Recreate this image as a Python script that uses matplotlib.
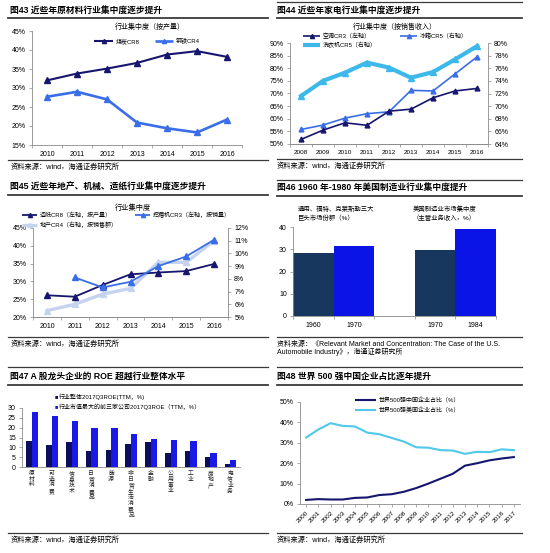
import numpy as np
import matplotlib.pyplot as plt
from matplotlib.lines import Line2D

plt.rcParams['font.family'] = ['Liberation Sans', 'Noto Sans CJK SC']
plt.rcParams['axes.unicode_minus'] = False

# ── Data ───────────────────────────────────────────────────────────────────────
years_43 = ['2010', '2011', '2012', '2013', '2014', '2015', '2016']
coal_cr8 = [32.0, 33.8, 35.1, 36.6, 38.8, 39.7, 38.2]
steel_cr4 = [27.7, 29.0, 27.0, 20.9, 19.4, 18.3, 21.7]

years_44 = ['2008', '2009', '2010', '2011', '2012', '2013', '2014', '2015', '2016']
ac_cr3 = [51.8, 55.5, 58.4, 57.4, 63.0, 63.8, 68.3, 71.0, 72.0]
fridge_cr5 = [66.3, 67.0, 68.1, 68.8, 69.1, 72.5, 72.4, 75.1, 77.8]
washer_cr5 = [71.6, 74.0, 75.3, 76.9, 76.1, 74.5, 75.4, 77.4, 79.5]

years_45 = ['2010', '2011', '2012', '2013', '2014', '2015', '2016']
paper_cr8 = [26.1, 25.7, 29.0, 32.0, 32.5, 32.9, 34.9]
digger_cr3 = [np.nan, 31.1, 28.3, 29.9, 34.3, 37.0, 41.7]
estate_cr4 = [5.5, 6.0, 6.8, 7.25, 9.3, 9.3, 11.0]

labels_46 = ['1960', '1970', '1970', '1984']
values_46 = [28.5, 31.5, 29.5, 39.0]

sectors_47 = ['原材料', '可选消费', '信息技术', '日常消费品', '能源', '非日常生活消费品',
              '金融', '公用事业', '工业', '房地产', '电信业务']
roe_all = [13.0, 11.0, 12.5, 8.0, 8.5, 11.5, 12.5, 7.0, 8.2, 5.3, 1.5]
roe_top3 = [28.0, 26.0, 23.3, 20.0, 19.7, 17.0, 14.2, 13.5, 13.0, 7.0, 3.7]

years_48 = [str(y) for y in range(2000, 2018)]
china_500 = [2.0, 2.4, 2.2, 2.2, 3.0, 3.2, 4.4, 4.8, 6.0, 7.8, 10.0, 12.4, 14.8, 18.8, 20.0, 21.4, 22.3, 23.0]
us_500 = [32.6, 36.5, 39.6, 38.3, 38.0, 35.0, 34.2, 32.4, 30.6, 27.8, 27.6, 26.4, 26.2, 24.6, 25.6, 25.4, 26.8, 26.4]

# ── Style ──────────────────────────────────────────────────────────────────────
NAVY = '#16166e'
BLUE = '#3a6ee8'
CYAN = '#3db8ea'
PALE = '#c6d3ee'
TITLE_FS = 6.3
TICK_FS = 5.0
SRC_FS = 5.2
LEG_FS = 4.3
SOURCE = '资料来源：wind，海通证券研究所'

W, H = 550, 553
fig = plt.figure(figsize=(W / 100, H / 100), dpi=100)


def fx(x):
    return x / W


def fy(y):
    return 1 - y / H


def rule(x0, x1, y, lw=0.9, color='#3a3a3a'):
    fig.add_artist(Line2D([fx(x0), fx(x1)], [fy(y), fy(y)], lw=lw, color=color))


def label(x, y, s, size=TICK_FS, **kw):
    fig.text(fx(x), fy(y), s, fontsize=size, va='center', **kw)


def box(l, t, r, b):
    return fig.add_axes([fx(l), fy(b), (r - l) / W, (b - t) / H])


def key(x0, x1, y, s, color, lw, marker=None, ms=0):
    fig.add_artist(Line2D([fx(x0), fx(x1)], [fy(y)] * 2, color=color, lw=lw,
                          solid_capstyle='butt'))
    if marker:
        fig.add_artist(Line2D([fx((x0 + x1) / 2)], [fy(y)], color=color,
                              marker=marker, ms=ms, lw=0))
    label(x1 + 3, y, s, size=LEG_FS)


def style(ax):
    for side in ['top', 'right']:
        ax.spines[side].set_visible(False)
    for side in ['left', 'bottom', 'right']:
        ax.spines[side].set_color('#8a8a8a')
        ax.spines[side].set_linewidth(0.6)
    ax.tick_params(labelsize=TICK_FS, length=2.5, width=0.5, color='#8a8a8a', pad=2)
    ax.set_facecolor('none')


def category_x(ax, names, size=TICK_FS):
    n = len(names)
    ax.set_xlim(-0.5, n - 0.5)
    ax.set_xticks(range(n), names)
    ax.set_xticks(np.arange(-0.5, n), minor=True)
    ax.tick_params(axis='x', which='major', length=0, pad=4, labelsize=size)
    ax.tick_params(axis='x', which='minor', length=2.5, width=0.5, color='#8a8a8a')


def pct_y(ax, lo, hi, step):
    ticks = np.arange(lo, hi + step / 2, step)
    ax.set_ylim(lo, hi)
    ax.set_yticks(ticks, [f'{t:g}%' for t in ticks])


# ── Frame: titles, rules, sources ──────────────────────────────────────────────
rule(277, 522, 2)
rule(8, 268, 18, lw=1.3)
rule(277, 522, 18, lw=1.3)
label(10, 11, '图43 近些年原材料行业集中度逐步提升', size=TITLE_FS, weight='bold')
label(277, 11, '图44 近些年家电行业集中度逐步提升', size=TITLE_FS, weight='bold')
rule(8, 268, 160)
rule(277, 522, 159)
label(11, 167, SOURCE, size=SRC_FS)
label(277, 166, SOURCE, size=SRC_FS)

rule(277, 522, 180)
rule(8, 268, 195, lw=1.3)
rule(277, 522, 196, lw=1.3)
label(10, 187, '图45 近些年地产、机械、造纸行业集中度逐步提升', size=TITLE_FS, weight='bold')
label(277, 188, '图46 1960 年-1980 年美国制造业行业集中度提升', size=TITLE_FS, weight='bold')
rule(8, 268, 337)
rule(277, 522, 337)
label(11, 344, SOURCE, size=SRC_FS)
label(277, 344, '资料来源：《Relevant Market and Concentration: The Case of the U.S.', size=SRC_FS - 0.2)
label(277, 352, 'Automobile Industry》，海通证券研究所', size=SRC_FS - 0.2)

rule(8, 268, 367)
rule(277, 522, 367)
rule(8, 268, 385, lw=1.3)
rule(277, 522, 385, lw=1.3)
label(10, 376, '图47 A 股龙头企业的 ROE 超越行业整体水平', size=TITLE_FS, weight='bold')
label(277, 376, '图48 世界 500 强中国企业占比逐年提升', size=TITLE_FS, weight='bold')
rule(8, 268, 533)
rule(277, 522, 533)
label(11, 540, SOURCE, size=SRC_FS)
label(277, 540, SOURCE, size=SRC_FS)

# ── Fig 43 ─────────────────────────────────────────────────────────────────────
ax = box(32, 31, 242, 145)
style(ax)
x = np.arange(len(years_43))
ax.plot(x, coal_cr8, color=NAVY, lw=1.5, marker='^', ms=4)
ax.plot(x, steel_cr4, color=BLUE, lw=1.9, marker='^', ms=4)
category_x(ax, years_43)
pct_y(ax, 15, 45, 5)
label(150, 27, '行业集中度（按产量）', size=5, ha='center')
key(94, 113, 41, '煤炭CR8', NAVY, 1.5, '^', 3)
key(155, 173, 41, '钢铁CR4', BLUE, 1.9, '^', 3)

# ── Fig 44 ─────────────────────────────────────────────────────────────────────
ax = box(290, 43, 488, 144)
style(ax)
axr = ax.twinx()
style(axr)
axr.spines['right'].set_visible(True)
axr.spines['left'].set_visible(False)
x = np.arange(len(years_44))
ax.plot(x, ac_cr3, color=NAVY, lw=1.2, marker='^', ms=3.5, zorder=3)
axr.plot(x, washer_cr5, color=CYAN, lw=3.0, marker='^', ms=5)
axr.plot(x, fridge_cr5, color=BLUE, lw=1.2, marker='^', ms=3.5)
ax.set_zorder(axr.get_zorder() + 1)
category_x(ax, years_44, size=4.6)
pct_y(ax, 50, 90, 5)
pct_y(axr, 64, 80, 2)
label(395, 27, '行业集中度（按销售收入）', size=5, ha='center')
key(303, 320, 36, '空调CR3（左轴）', NAVY, 1.2, '^', 3)
key(400, 417, 36, '冰箱CR5（右轴）', BLUE, 1.2, '^', 3)
key(303, 320, 45, '洗衣机CR5（右轴）', CYAN, 3.0)

# ── Fig 45 ─────────────────────────────────────────────────────────────────────
ax = box(33, 228, 228, 317)
style(ax)
axr = ax.twinx()
style(axr)
axr.spines['right'].set_visible(True)
axr.spines['left'].set_visible(False)
x = np.arange(len(years_45))
axr.plot(x, estate_cr4, color=PALE, lw=2.4, marker='^', ms=4.5)
ax.plot(x, paper_cr8, color=NAVY, lw=1.3, marker='^', ms=4, zorder=3)
ax.plot(x, digger_cr3, color=BLUE, lw=1.3, marker='^', ms=4, zorder=3)
ax.set_zorder(axr.get_zorder() + 1)
category_x(ax, years_45)
pct_y(ax, 20, 45, 5)
pct_y(axr, 5, 12, 1)
label(133, 208, '行业集中度', size=5.2, ha='center')
key(22, 37, 215, '造纸CR8（左轴，按产量）', NAVY, 1.3, '^', 3)
key(135, 150, 215, '挖掘机CR3（左轴，按销量）', BLUE, 1.3, '^', 3)
key(22, 37, 225, '地产CR4（右轴，按销售额）', PALE, 2.4, '^', 3)

# ── Fig 46 ─────────────────────────────────────────────────────────────────────
ax = box(293, 227, 496, 316)
style(ax)
pos = [0.5, 1.5, 3.5, 4.5]
ax.bar(pos, values_46, width=1.0, color=['#17375e', '#0a14e6', '#17375e', '#0a14e6'])
ax.set_xlim(0, 5)
ax.set_ylim(0, 40)
ax.set_yticks(range(0, 41, 10))
ax.set_xticks(pos, labels_46)
ax.set_xticks([0, 1, 2, 3, 4, 5], minor=True)
ax.tick_params(axis='x', which='major', length=0, pad=4)
ax.tick_params(axis='x', which='minor', length=2.5, width=0.5, color='#8a8a8a')
label(298, 209, '通用、福特、克莱斯勒三大', size=4.6)
label(298, 218, '巨头市场份额（%）', size=4.6)
label(413, 209, '美国制造业市场集中度', size=4.6)
label(413, 218, '（主营业务收入，%）', size=4.6)

# ── Fig 47 ─────────────────────────────────────────────────────────────────────
ax = box(22, 408, 240, 467)
style(ax)
x = np.arange(len(sectors_47))
ax.bar(x - 0.14, roe_all, width=0.28, color='#0d0d5e')
ax.bar(x + 0.16, roe_top3, width=0.32, color='#1a1ae6')
ax.set_xlim(-0.5, len(sectors_47) - 0.5)
ax.set_ylim(0, 30)
ax.set_yticks(range(0, 31, 5))
ax.set_xticks(x, ['\n'.join(s) for s in sectors_47])
ax.tick_params(axis='x', length=0, labelsize=4.2, pad=3, labelcolor='#222222')
for t in ax.get_xticklabels():
    t.set_linespacing(1.15)
    t.set_verticalalignment('top')
fig.text(fx(56), fy(397), '■', fontsize=4, color='#0d0d5e', va='center', ha='center')
fig.text(fx(56), fy(407), '■', fontsize=4, color='#1a1ae6', va='center', ha='center')
label(59, 397, '行业整体2017Q3ROE(TTM，%)', size=LEG_FS)
label(59, 407, '行业市值最大的前三家公司2017Q3ROE（TTM，%）', size=LEG_FS)

# ── Fig 48 ─────────────────────────────────────────────────────────────────────
ax = box(300, 402, 520, 504)
style(ax)
x = np.arange(len(years_48))
ax.plot(x, china_500, color=NAVY, lw=1.5)
ax.plot(x, us_500, color='#4fc8ea', lw=1.5)
ax.set_xlim(-0.5, len(years_48) - 0.5)
pct_y(ax, 0, 50, 10)
ax.set_xticks(x, years_48, rotation=45, ha='right', rotation_mode='anchor')
ax.tick_params(axis='x', length=2.5, labelsize=4.6, pad=2)
key(355, 376, 400, '世界500强中国企业占比（%）', NAVY, 1.5)
key(355, 376, 410, '世界500强美国企业占比（%）', '#4fc8ea', 1.5)

fig.savefig('out.png', dpi=100)
